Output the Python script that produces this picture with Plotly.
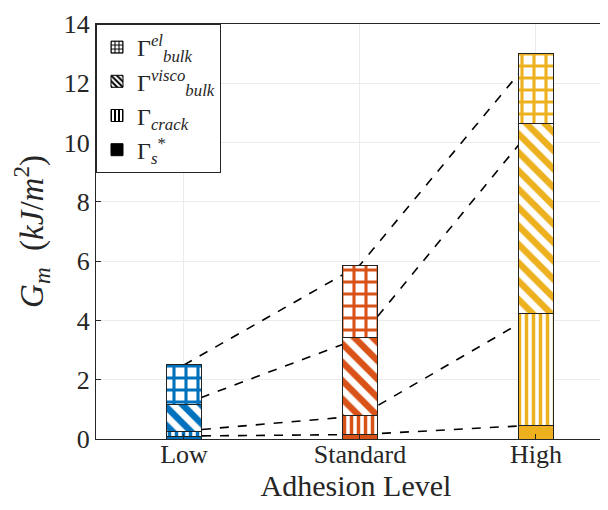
import plotly.graph_objects as go
import numpy as np

categories = ["Low", "Standard", "High"]
x_pos = [1, 2, 3]
gamma_s = [0.10, 0.15, 0.47]
gamma_crack = [0.17, 0.63, 3.75]
gamma_visco = [0.91, 2.63, 6.41]
gamma_el = [1.32, 2.46, 2.39]
colors = ["#0072BD", "#D95319", "#EDB120"]

components = [
    ("Γ<sub><i>s</i></sub><sup>*</sup>", gamma_s, "", 8, 0.5),
    ("Γ<sub><i>crack</i></sub>", gamma_crack, "|", 7, 0.5),
    ("Γ<sup><i>visco</i></sup><sub><i>bulk</i></sub>", gamma_visco, "\\", 13, 0.5),
    ("Γ<sup><i>el</i></sup><sub><i>bulk</i></sub>", gamma_el, "+", 12, 0.45),
]

FONT = "Liberation Serif"
fig = go.Figure()

# dashed connecting lines on the base axes (beneath the bars)
cum = np.zeros(3)
for name, vals, shape, size, sol in components:
    cum = cum + np.array(vals)
    fig.add_trace(go.Scatter(x=x_pos, y=cum.tolist(), mode="lines",
                             line=dict(color="black", width=1.6, dash="dash"),
                             showlegend=False, hoverinfo="skip",
                             xaxis="x", yaxis="y"))

# stacked bars on overlaying axes (drawn above the lines)
for name, vals, shape, size, sol in components:
    if shape == "":
        marker = dict(color=colors, line=dict(color="#222222", width=1))
    else:
        marker = dict(color="white", line=dict(color="#222222", width=1),
                      pattern=dict(shape=shape, fgcolor=colors, fgopacity=1,
                                   size=size, solidity=sol, fillmode="overlay"))
    fig.add_trace(go.Bar(x=x_pos, y=vals, width=0.2, showlegend=False,
                         marker=marker, xaxis="x2", yaxis="y2"))

# legend entries (black patterns)
for name, vals, shape, size, sol in reversed(components):
    if shape == "":
        marker = dict(color="black", line=dict(color="black", width=1))
    else:
        marker = dict(color="white", line=dict(color="black", width=1),
                      pattern=dict(shape=shape, fgcolor="black", fgopacity=1,
                                   size=5, solidity=sol, fillmode="overlay"))
    fig.add_trace(go.Bar(x=[None], y=[None], name=name, showlegend=True,
                         marker=marker, xaxis="x2", yaxis="y2"))

xrange = [0.5, 3.455]
yrange = [0, 14]
fig.update_layout(
    width=608, height=510,
    margin=dict(l=88, r=0, t=16, b=79),
    paper_bgcolor="white", plot_bgcolor="white",
    barmode="stack",
    font=dict(family=FONT, size=26, color="#262626"),
    xaxis=dict(range=xrange, tickvals=x_pos, ticktext=categories,
               showgrid=True, gridcolor="#ebebeb", gridwidth=1,
               ticks="inside", ticklen=5, tickcolor="#262626",
               showline=True, linecolor="#262626", linewidth=1, mirror=True,
               zeroline=False, automargin=False, ticklabelstandoff=-8,
               title=dict(text="Adhesion Level", font=dict(size=30), standoff=3),
               tickfont=dict(size=26)),
    yaxis=dict(range=yrange, dtick=2,
               showgrid=True, gridcolor="#ebebeb", gridwidth=1,
               ticks="inside", ticklen=5, tickcolor="#262626",
               showline=True, linecolor="#262626", linewidth=1,
               zeroline=False, automargin=False,
               title=dict(text="<i>G<sub>m</sub></i>  (<i>kJ</i>/<i>m</i><sup>2</sup>)",
                          font=dict(size=33), standoff=11),
               tickfont=dict(size=26)),
    xaxis2=dict(range=xrange, overlaying="x", visible=False, showgrid=False),
    yaxis2=dict(range=yrange, overlaying="y", visible=False, showgrid=False),
    legend=dict(x=0.0, y=1.0, xanchor="left", yanchor="top",
                bgcolor="white", bordercolor="#262626", borderwidth=1,
                font=dict(size=24), tracegroupgap=0, traceorder="normal",
                itemwidth=30),
)

fig.write_html("out.html")
